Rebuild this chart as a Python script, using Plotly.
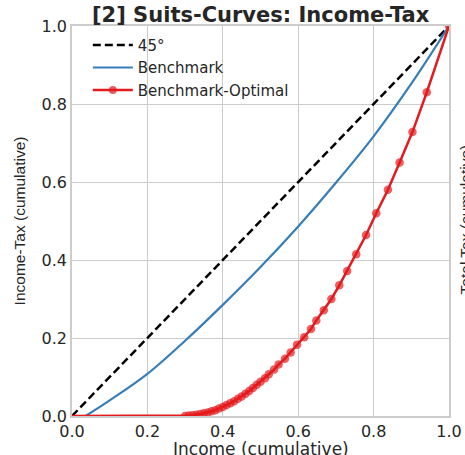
import plotly.graph_objects as go

# ---- data ----
diag_x = [0.0, 1.0]
diag_y = [0.0, 1.0]

bench_x = [0.036, 0.10, 0.20, 0.30, 0.40, 0.50, 0.60, 0.70, 0.80, 0.90, 1.00]
bench_y = [0.000, 0.040, 0.108, 0.193, 0.285, 0.382, 0.486, 0.598, 0.717, 0.852, 1.000]

opt_x = [0.00, 0.10, 0.20, 0.30, 0.31, 0.32, 0.33, 0.34, 0.35, 0.36, 0.37, 0.38, 0.39,
         0.40, 0.41, 0.42, 0.43, 0.44, 0.45, 0.46, 0.47, 0.48, 0.49, 0.500, 0.512,
         0.522, 0.536, 0.548, 0.565, 0.580, 0.597, 0.616, 0.634, 0.648, 0.668,
         0.688, 0.709, 0.730, 0.754, 0.780, 0.807, 0.838, 0.869, 0.903, 0.941, 1.000]
opt_y = [0.000, 0.000, 0.000, 0.000, 0.001, 0.002, 0.003, 0.005, 0.007, 0.009, 0.012,
         0.015, 0.019, 0.023, 0.028, 0.033, 0.038, 0.044, 0.050, 0.057, 0.064, 0.072,
         0.080, 0.088, 0.097, 0.107, 0.119, 0.132, 0.147, 0.163, 0.183, 0.202, 0.223,
         0.245, 0.271, 0.300, 0.335, 0.372, 0.415, 0.464, 0.520, 0.580, 0.650, 0.728,
         0.830, 1.000]

tick_vals = [0.0, 0.2, 0.4, 0.6, 0.8, 1.0]
tick_text = ["0.0", "0.2", "0.4", "0.6", "0.8", "1.0"]

title_text = "[2] Suits-Curves: Income-Tax"
x_title = "Income (cumulative)"
y_title = "Income-Tax (cumulative)"
right_title = "Total Tax (cumulative)"

# ---- figure ----
TXT = "#262626"
GRID = "#cccccc"
FONT = "DejaVu Sans"
NARROW = "Liberation Sans"

marker_sizes = [0 if (x < 0.3) else 8.5 for x in opt_x]

fig = go.Figure()
fig.add_trace(go.Scatter(x=diag_x, y=diag_y, mode="lines", name="45°",
                         line=dict(color="black", width=2.5, dash="8px,4px")))
fig.add_trace(go.Scatter(x=bench_x, y=bench_y, mode="lines", name="Benchmark",
                         line=dict(color="#377eb8", width=2.2, shape="spline")))
fig.add_trace(go.Scatter(x=opt_x, y=opt_y, mode="lines+markers", name="Benchmark-Optimal",
                         line=dict(color="#e41a1c", width=2.5),
                         marker=dict(color="#e41a1c", size=marker_sizes,
                                     line=dict(width=0))))

axis_common = dict(range=[0, 1], tickvals=tick_vals, ticktext=tick_text,
                   showgrid=True, gridcolor=GRID, gridwidth=1.3,
                   showline=True, linecolor=GRID, linewidth=1.6, mirror=True,
                   zeroline=False, ticks="", ticklabeloverflow="allow",
                   automargin=False,
                   tickfont=dict(family=FONT, size=16, color=TXT))

fig.update_layout(
    width=465, height=455,
    margin=dict(l=71.5, r=15.5, t=26, b=39),
    paper_bgcolor="white", plot_bgcolor="white",
    title=dict(text="<b>" + title_text + "</b>", x=0.5605, xanchor="center",
               y=0.968, yanchor="middle",
               font=dict(family=FONT, size=21, color=TXT)),
    showlegend=True,
    legend=dict(x=0.042, y=0.993, xanchor="left", yanchor="top",
                bgcolor="rgba(255,255,255,0)", borderwidth=0,
                font=dict(family=FONT, size=15, color=TXT),
                itemwidth=40, tracegroupgap=0),
)
fig.update_xaxes(**axis_common)
fig.update_yaxes(**axis_common,
                 title=dict(text=y_title, standoff=12,
                            font=dict(family=NARROW, size=15.5, color=TXT)))

fig.add_annotation(text=x_title, xref="paper", yref="paper",
                   x=0.5, y=-0.0845, xanchor="center", yanchor="middle",
                   showarrow=False,
                   font=dict(family=FONT, size=17, color=TXT))

fig.add_annotation(text=right_title, xref="paper", yref="paper",
                   x=1.044, y=0.503, xanchor="center", yanchor="middle",
                   textangle=-90, showarrow=False,
                   font=dict(family=NARROW, size=15.5, color=TXT))

fig.write_html("out.html")
